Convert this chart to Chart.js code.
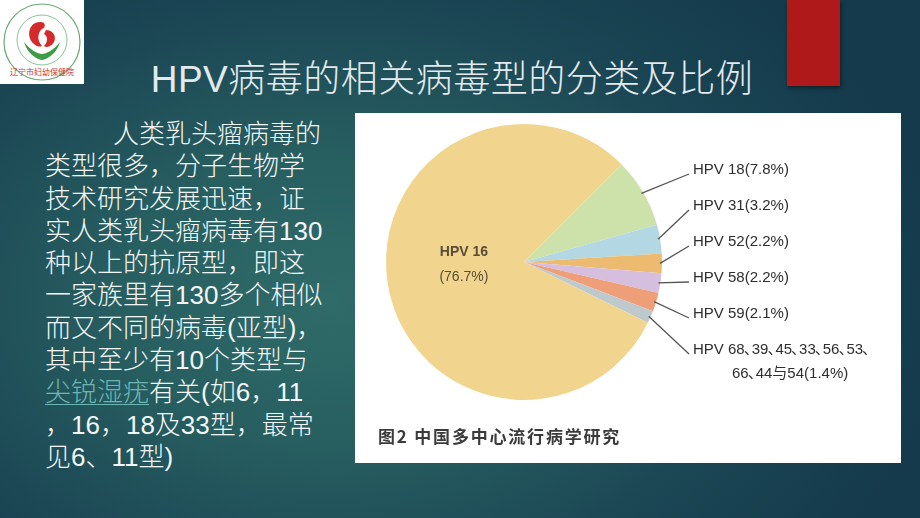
<!DOCTYPE html>
<html>
<head>
<meta charset="utf-8">
<script src="https://cdn.jsdelivr.net/npm/chart.js@4.4.1/dist/chart.umd.min.js"></script>
<style>
  html, body { margin: 0; padding: 0; }
  body {
    width: 920px; height: 518px; overflow: hidden; position: relative;
    background: radial-gradient(ellipse 620px 420px at 330px 300px, #2f6b68 0%, #275e60 35%, #1b4654 70%, #143a4b 100%);
    font-family: "Liberation Sans", "Noto Sans CJK SC", sans-serif;
  }
  #logo { position: absolute; left: 0; top: 0; width: 84px; height: 84px; background: #fff; }
  #redbar { position: absolute; left: 787px; top: 0; width: 53px; height: 86px; background: #b0191a; box-shadow: 1px 2px 4px rgba(0,0,0,0.45); }
  #title {
    position: absolute; left: 100px; width: 704px; top: 57px; text-align: center;
    font-family: "Liberation Sans", "Noto Sans CJK SC Light", "Noto Sans CJK SC", sans-serif; font-weight: 300;
    font-size: 37px; line-height: 46px; color: #e2eaee; letter-spacing: 0.5px;
  }
  #body {
    position: absolute; left: 45px; top: 118px; width: 310px;
    font-family: "Liberation Sans", "Noto Sans CJK SC Light", "Noto Sans CJK SC", sans-serif; font-weight: 300;
    font-size: 26px; line-height: 32.3px; color: #f3f6f6; white-space: nowrap;
  }
  #body .ind { padding-left: 68px; }
  #body .lnk { color: #6cb7b4; text-decoration: underline; text-decoration-thickness: 1px; text-underline-offset: 3px; }
  #panel { position: absolute; left: 355px; top: 113px; width: 546px; height: 350px; background: #fff; }
  #panel canvas { position: absolute; left: 0; top: 0; }
  #caption {
    position: absolute; left: 23px; top: 310px; font-weight: bold; font-size: 17px;
    letter-spacing: 1.8px; color: #3b3b3b; font-family: "Noto Sans CJK SC", sans-serif;
  }
</style>
</head>
<body>
<div id="logo">
  <svg width="84" height="84" viewBox="0 0 84 84">
    <circle cx="42" cy="42" r="38" fill="none" stroke="#6aa878" stroke-width="1.2"/>
    <circle cx="42" cy="40" r="25" fill="none" stroke="#8cc49a" stroke-width="1"/>
    <path d="M40 22 C28 22 26 38 34 44 C38 48 42 46 42 46 C36 40 38 30 44 28 C46 24 44 22 40 22 Z" fill="#d42a2a"/>
    <path d="M46 30 C56 30 58 42 50 46 C46 48 44 46 44 46 C48 42 48 36 44 34 Z" fill="#d42a2a"/>
    <path d="M24 42 C28 56 40 60 42 60 C44 60 56 56 60 42 C54 50 46 54 42 54 C38 54 30 50 24 42 Z" fill="#3e9b48"/>
    <text x="42" y="75" text-anchor="middle" font-size="8" fill="#c33" font-family="Noto Sans CJK SC">辽宁市妇幼保健院</text>
  </svg>
</div>
<div id="redbar"></div>
<div id="title">HPV病毒的相关病毒型的分类及比例</div>
<div id="body"><span class="ind">人类乳头瘤病毒的</span><br>类型很多，分子生物学<br>技术研究发展迅速，证<br>实人类乳头瘤病毒有130<br>种以上的抗原型，即这<br>一家族里有130多个相似<br>而又不同的病毒(亚型)，<br>其中至少有10个类型与<br><span class="lnk">尖锐湿疣</span>有关(如6，11<br>，16，18及33型，最常<br>见6、11型)</div>
<div id="panel">
  <canvas id="pie" width="546" height="350"></canvas>
  <div id="caption">图2 中国多中心流行病学研究</div>
</div>
<script>
// HPV types, China multi-centre study
const types = ['HPV 18', 'HPV 31', 'HPV 52', 'HPV 58', 'HPV 59', 'HPV 68,39,45,33,56,53,66,44与54', 'HPV 16'];
const shares = [7.8, 3.2, 2.2, 2.2, 2.1, 1.4, 76.7];
const labelLines = [
  ['HPV 18(7.8%)'],
  ['HPV 31(3.2%)'],
  ['HPV 52(2.2%)'],
  ['HPV 58(2.2%)'],
  ['HPV 59(2.1%)'],
  ['HPV 68、39、45、33、56、53、', '66、44与54(1.4%)'],
  ['HPV 16', '(76.7%)']
];
const sliceColors = ['#cde2ab', '#b4d8e3', '#ecbb70', '#d6bfde', '#ee9f77', '#bec9ce', '#f1d58f'];

// draws text with a narrow 、 like the printed figure
function fillCompact(ctx, text, x, y) {
  const parts = text.split('、');
  parts.forEach((part, k) => {
    ctx.fillText(part, x, y);
    x += ctx.measureText(part).width;
    if (k < parts.length - 1) {
      ctx.fillText('、', x - 1, y);
      x += 7;
    }
  });
}

// leader lines + outside labels, inner label for the big slice
const labelPlugin = {
  id: 'hpvLabels',
  afterDatasetsDraw(chart) {
    const ctx = chart.ctx;
    const arcs = chart.getDatasetMeta(0).data;
    const textX = 338, firstY = 57, step = 36;
    ctx.save();
    ctx.textBaseline = 'middle';
    arcs.forEach((arc, i) => {
      const p = arc.getProps(['x', 'y', 'startAngle', 'endAngle', 'outerRadius'], true);
      const lines = labelLines[i];
      if (i === arcs.length - 1) {
        const pos = arc.tooltipPosition(true);
        ctx.fillStyle = '#5a4d36';
        ctx.textAlign = 'center';
        ctx.font = 'bold 14px "Liberation Sans", sans-serif';
        ctx.fillText(lines[0], pos.x + 8, pos.y - 21);
        ctx.font = '14px "Liberation Sans", sans-serif';
        ctx.fillText(lines[1], pos.x + 8, pos.y + 4);
        return;
      }
      const mid = (p.startAngle + p.endAngle) / 2;
      const sx = p.x + Math.cos(mid) * (p.outerRadius - 2);
      const sy = p.y + Math.sin(mid) * (p.outerRadius - 2);
      const ly = firstY + i * step;
      ctx.strokeStyle = '#555';
      ctx.lineWidth = 1.3;
      ctx.beginPath();
      ctx.moveTo(sx, sy);
      ctx.lineTo(textX - 4, ly + 4);
      ctx.stroke();
      ctx.fillStyle = '#2e2e2e';
      ctx.textAlign = 'left';
      ctx.font = '15px "Liberation Sans", "Noto Sans CJK SC", sans-serif';
      fillCompact(ctx, lines[0], textX, ly);
      if (lines[1]) fillCompact(ctx, lines[1], textX + 39, ly + 24);
    });
    ctx.restore();
  }
};

new Chart(document.getElementById('pie'), {
  type: 'pie',
  data: {
    labels: types,
    datasets: [{
      data: shares,
      backgroundColor: sliceColors,
      borderWidth: 0
    }]
  },
  options: {
    responsive: false,
    animation: false,
    rotation: 45,
    layout: { padding: { left: 31, right: 239, top: 10, bottom: 62 } },
    plugins: {
      legend: { display: false },
      tooltip: { enabled: false }
    }
  },
  plugins: [labelPlugin]
});
</script>
</body>
</html>
